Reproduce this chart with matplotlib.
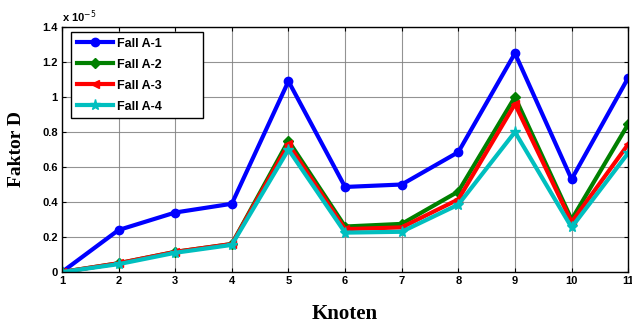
import numpy as np
import matplotlib.pyplot as plt
from matplotlib.ticker import FuncFormatter

knoten = np.arange(1, 12)

# Faktor D values in units of 1e-5
fall_a1 = [0.0, 0.24, 0.34, 0.39, 1.09, 0.486, 0.50, 0.685, 1.25, 0.53, 1.11]
fall_a2 = [0.0, 0.05, 0.115, 0.16, 0.75, 0.26, 0.275, 0.46, 1.00, 0.30, 0.845]
fall_a3 = [0.0, 0.05, 0.115, 0.16, 0.73, 0.245, 0.255, 0.415, 0.96, 0.285, 0.73]
fall_a4 = [0.0, 0.045, 0.11, 0.155, 0.70, 0.225, 0.23, 0.385, 0.80, 0.255, 0.68]

fig = plt.figure(figsize=(6.32, 3.25), dpi=100)
ax = fig.add_axes([0.098, 0.163, 0.896, 0.754])

ax.plot(knoten, fall_a1, color='#0000ff', lw=3, marker='o', ms=6, label='Fall A-1')
ax.plot(knoten, fall_a2, color='#008000', lw=3, marker='D', ms=5, label='Fall A-2')
ax.plot(knoten, fall_a3, color='#ff0000', lw=3, marker='<', ms=6, label='Fall A-3')
ax.plot(knoten, fall_a4, color='#00bfbf', lw=3, marker='*', ms=8, label='Fall A-4')

ax.set_xlim(1, 11)
ax.set_ylim(0, 1.4)
ax.set_xticks(knoten)
ax.set_yticks(np.arange(0, 1.41, 0.2))
ax.yaxis.set_major_formatter(FuncFormatter(lambda v, p: '%g' % round(v, 1)))
ax.grid(True, color='#808080', lw=0.8, alpha=0.85)
ax.tick_params(direction='in', length=3, top=True, right=True, labelsize=8, pad=3)
for lab in ax.get_xticklabels() + ax.get_yticklabels():
    lab.set_fontweight('bold')
    lab.set_family('Liberation Sans')
for s in ax.spines.values():
    s.set_linewidth(1.0)

ax.text(0.0, 1.01, 'x 10$^{-5}$', transform=ax.transAxes, fontsize=8,
        fontweight='bold', family='Liberation Sans', va='bottom', ha='left')

ax.set_xlabel('Knoten', fontsize=15, fontweight='bold', family='Liberation Serif', labelpad=13)
ax.set_ylabel('Faktor D', fontsize=14, fontweight='bold', family='Liberation Serif', labelpad=12)

leg = ax.legend(loc='upper left', bbox_to_anchor=(0.016, 0.0, 0.233, 0.98),
                mode='expand', borderaxespad=0,
                fancybox=False, edgecolor='black', framealpha=1,
                prop={'family': 'Liberation Sans', 'weight': 'bold', 'size': 9},
                handlelength=2.9, handletextpad=0.35, labelspacing=0.72,
                borderpad=0.45)
leg.get_frame().set_linewidth(1.0)

fig.savefig('out.png', dpi=100)
